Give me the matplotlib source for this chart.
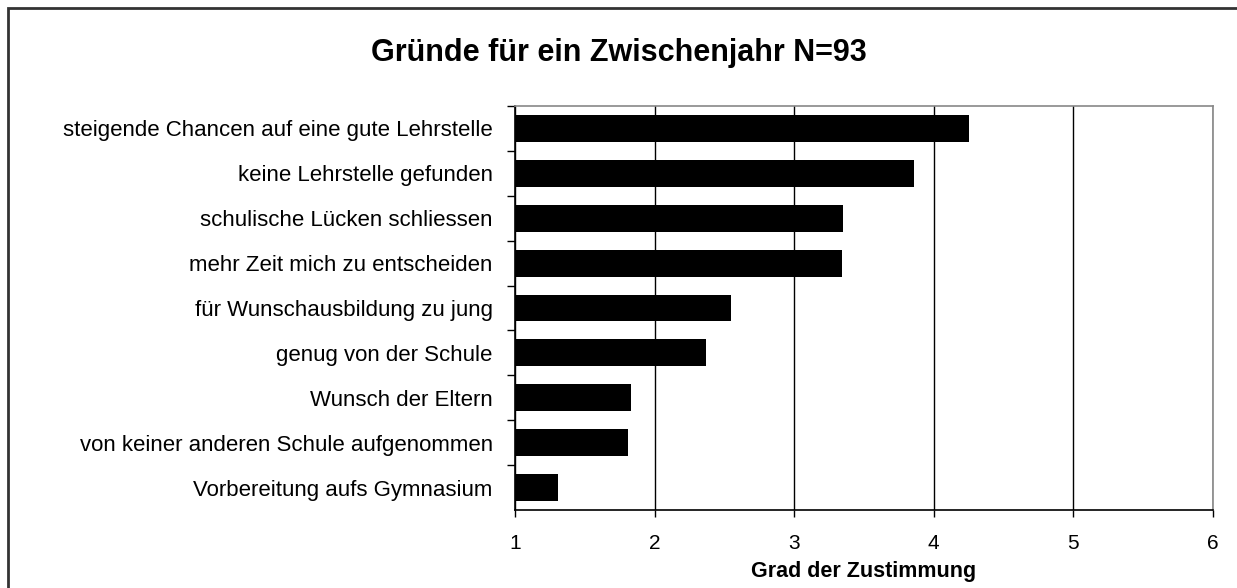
import matplotlib
matplotlib.use("Agg")
import matplotlib.pyplot as plt
from matplotlib.patches import Rectangle

plt.rcParams['font.family'] = ['Liberation Sans', 'DejaVu Sans']

# Gruende fuer ein Zwischenjahr, Mittelwerte (Skala 1-6)
categories = [
    "steigende Chancen auf eine gute Lehrstelle",
    "keine Lehrstelle gefunden",
    "schulische Lücken schliessen",
    "mehr Zeit mich zu entscheiden",
    "für Wunschausbildung zu jung",
    "genug von der Schule",
    "Wunsch der Eltern",
    "von keiner anderen Schule aufgenommen",
    "Vorbereitung aufs Gymnasium",
]
values = [4.25, 3.86, 3.35, 3.34, 2.55, 2.37, 1.83, 1.81, 1.31]
xticks = [1, 2, 3, 4, 5, 6]
title = "Gründe für ein Zwischenjahr N=93"
xlabel = "Grad der Zustimmung"

W, H = 1237, 588
fig = plt.figure(figsize=(W / 100, H / 100), dpi=100)
ax = fig.add_axes([515 / W, 1 - 510 / H, (1213 - 515) / W, (510 - 106) / H])

ypos = list(range(len(categories)))[::-1]
base = xticks[0]
ax.barh(ypos, [v - base for v in values], left=base, height=0.6, color='black', zorder=3)

ax.set_xlim(1, 6)
ax.set_ylim(-0.5, len(categories) - 0.5)
ax.set_xticks(xticks)
ax.set_xticklabels([str(t) for t in xticks], fontsize=15)
# major ticks between the bars, labels on minor ticks at bar centres
ax.set_yticks([y + 0.5 for y in range(len(categories))])
ax.set_yticklabels([])
ax.set_yticks(ypos, minor=True)
ax.set_yticklabels(categories, minor=True, fontsize=16)
ax.tick_params(axis='y', which='minor', length=0, pad=16)
ax.tick_params(axis='y', which='major', length=6, width=1, direction='out')
ax.tick_params(axis='x', length=5, width=1, direction='out', pad=12)

ax.grid(axis='x', color='black', linewidth=1, zorder=0)
ax.spines['top'].set_color('#888888')
ax.spines['right'].set_color('#888888')
ax.spines['left'].set_color('black')
ax.spines['bottom'].set_color('black')
for s in ax.spines.values():
    s.set_linewidth(1.2)

ax.set_xlabel(xlabel, fontsize=15.5, fontweight='bold', labelpad=6)
fig.text(0.5, 1 - 61 / H, title, ha='center', va='baseline', fontsize=22, fontweight='bold')

# outer chart frame
fig.patches.append(Rectangle((8 / W, -0.1), 1.2, (H - 8) / H + 0.1, transform=fig.transFigure,
                             fill=False, edgecolor='#333333', linewidth=2))

fig.savefig("out.png", dpi=100)
